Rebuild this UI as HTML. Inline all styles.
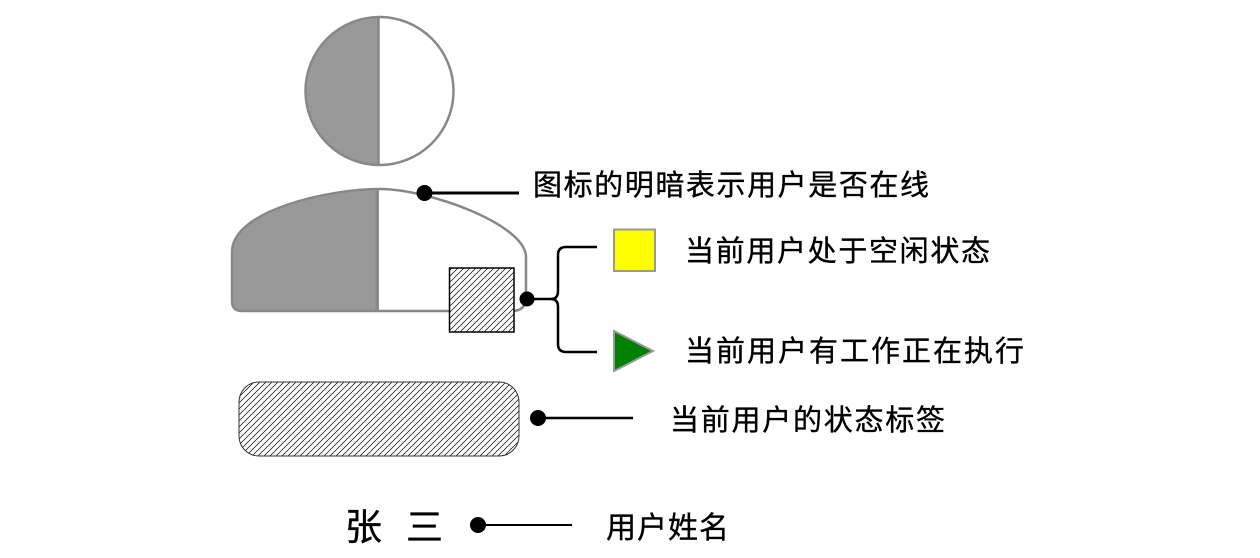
<!DOCTYPE html>
<html>
<head>
<meta charset="utf-8">
<style>
  html, body { margin: 0; padding: 0; background: #fff; }
  body { width: 1260px; height: 558px; overflow: hidden; }
  svg { display: block; }
  text { font-family: "Liberation Sans", "Noto Sans CJK SC", sans-serif; fill: #000; stroke: #000; stroke-width: 0.35; }
</style>
</head>
<body>
<svg width="1260" height="558" viewBox="0 0 1260 558" xmlns="http://www.w3.org/2000/svg">
  <defs>
    <pattern id="hatch" patternUnits="userSpaceOnUse" width="6" height="6">
      <path d="M0,6 L6,0 M-1.5,1.5 L1.5,-1.5 M4.5,7.5 L7.5,4.5" stroke="#000" stroke-width="0.7" fill="none"/>
    </pattern>
    <clipPath id="leftHalf">
      <rect x="0" y="0" width="379" height="558"/>
    </clipPath>
  </defs>

  <!-- Head -->
  <circle cx="379.5" cy="91" r="74" fill="#fff"/>
  <circle cx="379.5" cy="91" r="74" fill="#999" clip-path="url(#leftHalf)"/>
  <line x1="378.5" y1="17" x2="378.5" y2="165" stroke="#888" stroke-width="2.5"/>
  <circle cx="379.5" cy="91" r="74" fill="none" stroke="#888" stroke-width="2.5"/>

  <!-- Body -->
  <path d="M379,189 C430,189 526,225 526,257 L526,297 Q526,311 512,311 L242,311 Q232,311 232,301 L232,252 C232,210 330,189 379,189 Z" fill="#fff"/>
  <path d="M379,189 C430,189 526,225 526,257 L526,297 Q526,311 512,311 L242,311 Q232,311 232,301 L232,252 C232,210 330,189 379,189 Z" fill="#999" clip-path="url(#leftHalf)"/>
  <line x1="377" y1="189" x2="377" y2="311" stroke="#888" stroke-width="3"/>
  <path d="M379,189 C430,189 526,225 526,257 L526,297 Q526,311 512,311 L242,311 Q232,311 232,301 L232,252 C232,210 330,189 379,189 Z" fill="none" stroke="#888" stroke-width="2.5"/>

  <!-- Hatched status square -->
  <rect x="449.5" y="268" width="64.5" height="64" fill="#fff"/>
  <rect x="449.5" y="268" width="64.5" height="64" fill="url(#hatch)" stroke="#000" stroke-width="1.5"/>

  <!-- Connector: online -->
  <line x1="424" y1="193" x2="519" y2="193" stroke="#000" stroke-width="3"/>
  <circle cx="424.5" cy="193" r="8" fill="#000"/>

  <!-- Brace connector -->
  <path d="M527,299 L551,299 Q558,299 558,291 L558,255 Q558,247 566,247 L597,247" fill="none" stroke="#000" stroke-width="2.5"/>
  <path d="M551,299 Q558,299 558,307 L558,344 Q558,352 566,352 L597,352" fill="none" stroke="#000" stroke-width="2.5"/>
  <circle cx="527" cy="299" r="7.5" fill="#000"/>

  <!-- Yellow square -->
  <rect x="614" y="229.5" width="41" height="41.5" fill="#ffff00" stroke="#999" stroke-width="2"/>
  <!-- Green triangle -->
  <polygon points="614,331 614,371 653,351" fill="#008000" stroke="#999" stroke-width="2" stroke-linejoin="miter"/>

  <!-- Rounded status label -->
  <rect x="239" y="382" width="280" height="74" rx="20" ry="20" fill="#fff"/>
  <rect x="239" y="382" width="280" height="74" rx="20" ry="20" fill="url(#hatch)" stroke="#333" stroke-width="1"/>
  <line x1="538" y1="418" x2="633" y2="418" stroke="#000" stroke-width="2.5"/>
  <circle cx="538" cy="418" r="8" fill="#000"/>

  <!-- Name -->
  <text x="345" y="540" font-size="37">张</text>
  <text x="406" y="540" font-size="37">三</text>
  <line x1="478" y1="525" x2="572" y2="525" stroke="#000" stroke-width="2"/>
  <circle cx="478" cy="525" r="8" fill="#000"/>

  <!-- Labels -->
  <text x="533" y="195" font-size="29" textLength="396" lengthAdjust="spacing">图标的明暗表示用户是否在线</text>
  <text x="685" y="261" font-size="29" textLength="305" lengthAdjust="spacing">当前用户处于空闲状态</text>
  <text x="685" y="361" font-size="29" textLength="339" lengthAdjust="spacing">当前用户有工作正在执行</text>
  <text x="670" y="430" font-size="29" textLength="275" lengthAdjust="spacing">当前用户的状态标签</text>
  <text x="606" y="538" font-size="30" textLength="123" lengthAdjust="spacing">用户姓名</text>
</svg>
</body>
</html>
